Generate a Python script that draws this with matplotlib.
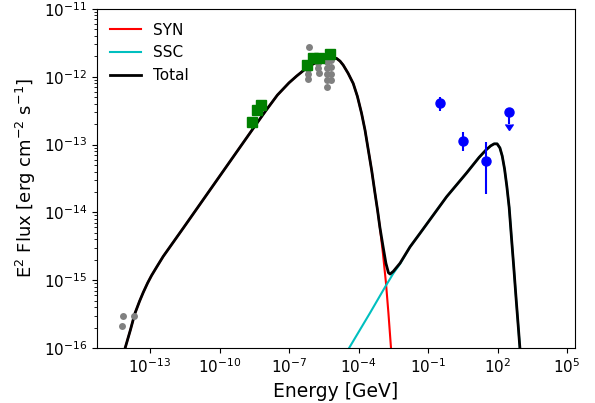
import numpy as np
import matplotlib
matplotlib.use("Agg")
import matplotlib.pyplot as plt
import matplotlib.lines as mlines
from matplotlib.ticker import NullLocator

# ---- model curves (log10 E [GeV], log10 E^2 F) ----
total_logE = [-14.15, -14.08, -13.85, -13.65, -13.45, -13.29, -13.10, -12.93, -12.70,
              -12.43, -11.56, -10.41, -9.26, -8.54, -8.00, -7.50, -7.00, -6.67, -6.31,
              -6.00, -5.60, -5.20, -4.95, -4.80, -4.66, -4.45, -4.23, -4.05, -3.87,
              -3.72, -3.58, -3.43, -3.29, -3.18, -3.08, -2.95, -2.82, -2.71, -2.64,
              -2.50, -2.21, -1.78, -1.35, -0.20, 0.66, 1.20, 1.50, 1.70, 1.85, 1.98,
              2.10, 2.20, 2.30, 2.40, 2.50, 2.60, 2.70, 2.80, 2.90, 2.96, 3.05]
total_logF = [-16.20, -16.01, -15.74, -15.49, -15.31, -15.18, -15.04, -14.93, -14.80,
              -14.65, -14.23, -13.67, -13.11, -12.76, -12.50, -12.27, -12.09, -11.99, -11.89,
              -11.82, -11.75, -11.715, -11.73, -11.77, -11.83, -11.95, -12.10, -12.29, -12.54,
              -12.79, -13.08, -13.39, -13.72, -13.97, -14.22, -14.49, -14.75, -14.89, -14.91,
              -14.87, -14.75, -14.51, -14.31, -13.77, -13.42, -13.19, -13.08, -13.02, -12.99, -12.99,
              -13.05, -13.17, -13.36, -13.62, -13.93, -14.38, -14.82, -15.28, -15.72, -15.99, -16.35]

syn_logE = total_logE[:35] + [-2.95, -2.82, -2.71, -2.60, -2.55]
syn_logF = total_logF[:35] + [-14.60, -15.03, -15.49, -16.00, -16.25]

ssc_logE = [-4.60, -3.50, -2.82, -2.64, -2.50, -2.21] + total_logE[41:]
ssc_logF = [-16.11, -15.48, -15.08, -14.98, -14.90, -14.76] + total_logF[41:]

# ---- data points ----
grey_logE = [-14.18, -13.68, -14.20,
             -6.14, -6.18, -6.18, -6.18, -5.75, -5.73, -5.71,
             -5.36, -5.36, -5.36, -5.36, -5.38, -5.17, -5.17, -5.19, -5.19, -5.17]
grey_logF = [-15.53, -15.53, -15.67,
             -11.56, -11.89, -11.96, -12.04, -11.80, -11.87, -11.95,
             -11.79, -11.87, -11.96, -12.05, -12.15, -11.64, -11.76, -11.86, -11.96, -12.05]

green_logE = [-8.61, -8.40, -8.21, -6.24, -5.97, -5.71, -5.23]
green_logF = [-12.67, -12.49, -12.42, -11.83, -11.73, -11.73, -11.67]
green_err_lo = [0.10, 0.04, 0.03, 0.03, 0.02, 0.02, 0.02]
green_err_hi = [0.04, 0.03, 0.03, 0.03, 0.02, 0.02, 0.02]

blue_logE = [-0.49, 0.49, 1.51]
blue_logF = [-12.386, -12.95, -13.24]
blue_lo = [-12.50, -13.10, -13.73]
blue_hi = [-12.30, -12.82, -12.96]

ul_logE = [2.49]
ul_logF = [-12.52]
ul_end = [-12.70]

xlim_log = (-15.3, 5.33)
ylim = (1e-16, 1e-11)

def p(a):
    return 10.0 ** np.asarray(a, dtype=float)

fig = plt.figure(figsize=(5.95, 4.03), dpi=100)
ax = fig.add_axes([0.1625, 0.1365, 0.8035, 0.8415])

ax.plot(p(syn_logE), p(syn_logF), color='red', lw=1.5, label='SYN', zorder=2)
ax.plot(p(ssc_logE), p(ssc_logF), color='c', lw=1.5, label='SSC', zorder=2)
ax.plot(p(total_logE), p(total_logF), color='black', lw=2.0, label='Total', zorder=3)

ax.plot(p(grey_logE), p(grey_logF), 'o', color='grey', ms=5, mec='none', zorder=4)

gF = p(green_logF)
gerr = [gF - p(np.array(green_logF) - np.array(green_err_lo)),
        p(np.array(green_logF) + np.array(green_err_hi)) - gF]
ax.errorbar(p(green_logE), gF, yerr=gerr, fmt='s', color='green', ms=7,
            elinewidth=1.5, capsize=0, zorder=5)

bF = p(blue_logF)
berr = [bF - p(blue_lo), p(blue_hi) - bF]
ax.errorbar(p(blue_logE), bF, yerr=berr, fmt='o', color='blue', ms=6.5,
            elinewidth=1.5, capsize=0, zorder=5)

uF = p(ul_logF)
ax.errorbar(p(ul_logE), uF, yerr=[uF - p(ul_end), np.zeros(len(ul_end))], fmt='o',
            color='blue', ms=6.5, elinewidth=1.5, capsize=0, zorder=5)
ax.plot(p(ul_logE), p(ul_end), marker=mlines.CARETDOWNBASE, color='blue', ms=6,
        ls='none', zorder=5)

ax.set_xscale('log')
ax.set_yscale('log')
ax.set_xlim(10 ** xlim_log[0], 10 ** xlim_log[1])
ax.set_ylim(*ylim)
ax.set_xticks([1e-13, 1e-10, 1e-7, 1e-4, 1e-1, 1e2, 1e5])
ax.xaxis.set_minor_locator(NullLocator())
ax.tick_params(labelsize=11)

ax.set_xlabel('Energy [GeV]', fontsize=13.5)
ax.set_ylabel(r'E$^2$ Flux [erg cm$^{-2}$ s$^{-1}$]', fontsize=13)

ax.legend(loc='upper left', frameon=False, fontsize=11)

fig.savefig('out.png', dpi=100)
